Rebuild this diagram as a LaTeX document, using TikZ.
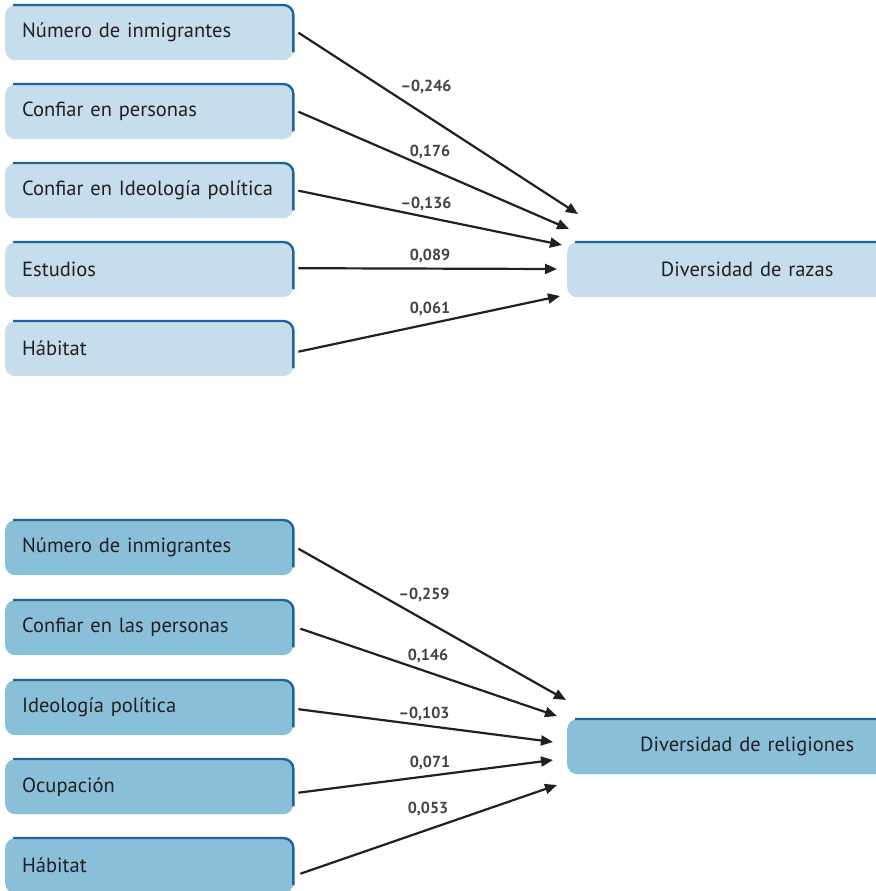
\documentclass[tikz,border=0pt]{standalone}
\usepackage{fontspec}
\setmainfont{PT Sans}
\usetikzlibrary{arrows.meta,calc}
\definecolor{lightfill}{HTML}{C6DDEC}
\definecolor{darkfill}{HTML}{8ABFDA}
\definecolor{edgecol}{HTML}{1C64A0}
\definecolor{txt}{HTML}{231F20}
\tikzset{
  box/.style={rectangle, rounded corners=10pt, minimum height=55pt, anchor=north west,
    text=txt, font=\fontsize{20.5}{23}\selectfont, inner xsep=17pt, inner ysep=0pt,
    text width=254pt, align=left},
  tbox/.style={box, text width=326pt, align=center},
  edge/.style={draw=edgecol, line width=2.4pt},
  conn/.style={draw=txt, line width=2.2pt, -{Triangle[length=12pt,width=10pt]}},
  lbl/.style={font=\bfseries\fontsize{16}{18}\selectfont, text=txt!85, inner sep=0pt}
}
\newcommand{\toprightedge}[1]{%
  \draw[edge] ($(#1.north west)+(8,0)$) -- ($(#1.north east)+(-10,0)$)
    arc[start angle=90,end angle=0,radius=10pt] -- ($(#1.south east)+(0,-8)$);}
\begin{document}
\begin{tikzpicture}[x=1pt,y=-1pt]
\useasboundingbox (0,0) rectangle (875,891);
% upper group
\node[box, fill=lightfill] (a1) at (5,5) {Número de inmigrantes};
\node[box, fill=lightfill] (a2) at (5,84) {Confiar en personas};
\node[box, fill=lightfill] (a3) at (5,163) {Confiar en Ideología política};
\node[box, fill=lightfill] (a4) at (5,242) {Estudios};
\node[box, fill=lightfill] (a5) at (5,321) {Hábitat};
\node[tbox, fill=lightfill] (ta) at (567,242) {Diversidad de razas};
\foreach \n in {a1,a2,a3,a4,a5,ta}{\toprightedge{\n}}
\coordinate (ra1) at (578,214);
\coordinate (ra2) at (569,229);
\coordinate (ra3) at (562,245);
\coordinate (ra4) at (557,269);
\coordinate (ra5) at (560,296);
\draw[conn] ([xshift=5pt]a1.east) -- (ra1);
\draw[conn] ([xshift=5pt]a2.east) -- (ra2);
\draw[conn] ([xshift=5pt]a3.east) -- (ra3);
\draw[conn] ([xshift=5pt,yshift=1.5pt]a4.east) -- (ra4);
\draw[conn] ([xshift=5pt,yshift=-3pt]a5.east) -- (ra5);
\node[lbl] (la1) at (426,87) {–0,246};
\node[lbl] (la2) at (430,152) {0,176};
\node[lbl] (la3) at (426,204) {–0,136};
\node[lbl] (la4) at (430,256) {0,089};
\node[lbl] (la5) at (430,309) {0,061};
% lower group
\node[box, fill=darkfill] (b1) at (5,520) {Número de inmigrantes};
\node[box, fill=darkfill] (b2) at (5,600) {Confiar en las personas};
\node[box, fill=darkfill] (b3) at (5,680) {Ideología política};
\node[box, fill=darkfill] (b4) at (5,759) {Ocupación};
\node[box, fill=darkfill] (b5) at (5,838) {Hábitat};
\node[tbox, fill=darkfill] (tb) at (567,719) {Diversidad de religiones};
\foreach \n in {b1,b2,b3,b4,b5,tb}{\toprightedge{\n}}
\coordinate (rb1) at (566,700);
\coordinate (rb2) at (557,716);
\coordinate (rb3) at (553,742);
\coordinate (rb4) at (553,760);
\coordinate (rb5) at (557,785);
\draw[conn] ([xshift=5pt,yshift=-1pt]b1.east) -- (rb1);
\draw[conn] ([xshift=7pt,yshift=-1pt]b2.east) -- (rb2);
\draw[conn] ([xshift=5pt,yshift=-1.5pt]b3.east) -- (rb3);
\draw[conn] ([xshift=5pt,yshift=-6pt]b4.east) -- (rb4);
\draw[conn] ([xshift=7pt,yshift=-8pt]b5.east) -- (rb5);
\node[lbl] (lb1) at (424,595) {–0,259};
\node[lbl] (lb2) at (428,656) {0,146};
\node[lbl] (lb3) at (424,714) {–0,103};
\node[lbl] (lb4) at (430,763) {0,071};
\node[lbl] (lb5) at (428,809) {0,053};
\end{tikzpicture}
\end{document}
